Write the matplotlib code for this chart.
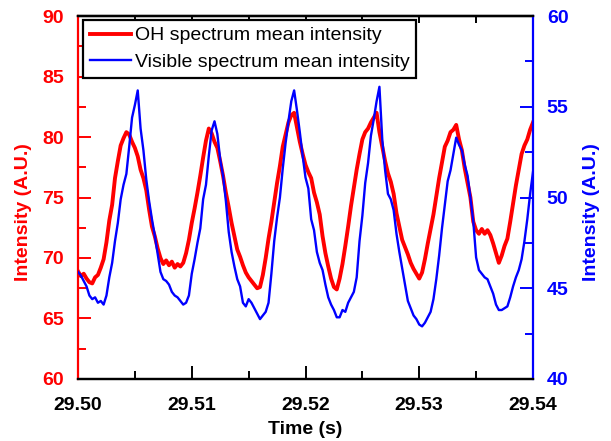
#!/usr/bin/env python3
# OH vs visible spectrum mean intensity, two y-axes

import numpy as np
import matplotlib
matplotlib.use("Agg")
import matplotlib.pyplot as plt
from matplotlib.ticker import MultipleLocator

plt.rcParams["font.family"] = ["Liberation Sans", "DejaVu Sans"]

t_start = 29.50
t_step = 0.00025  # s, sample spacing

oh_intensity = [
    68.9, 68.5, 68.7, 68.3, 68.0, 67.9, 68.4, 68.6, 69.2, 69.9,
    71.3, 73.1, 74.4, 76.6, 78.0, 79.3, 79.9, 80.4, 80.2, 79.6,
    79.1, 78.4, 77.3, 76.6, 75.6, 74.0, 72.6, 71.8, 70.8, 70.0,
    69.5, 69.8, 69.4, 69.7, 69.2, 69.5, 69.3, 69.6, 70.4, 71.5,
    72.9, 74.1, 75.4, 76.8, 78.3, 79.7, 80.7, 80.3, 79.6, 79.1,
    78.0, 76.8, 75.4, 74.2, 72.9, 71.8, 70.7, 70.1, 69.4, 68.8,
    68.4, 68.1, 67.8, 67.5, 67.6, 68.6, 70.0, 71.6, 73.0, 74.6,
    76.2, 77.6, 79.2, 80.2, 81.2, 81.8, 82.0, 80.8, 79.6, 78.6,
    77.7, 77.1, 76.6, 75.4, 74.6, 73.6, 71.8, 70.4, 69.3, 68.3,
    67.6, 67.4, 68.3, 69.5, 71.0, 72.6, 74.3, 75.8, 77.3, 78.6,
    79.8, 80.4, 80.7, 81.2, 81.6, 82.0, 80.4, 79.2, 78.0, 77.0,
    76.3, 75.3, 73.7, 72.6, 71.5, 70.9, 70.3, 69.6, 69.1, 68.7,
    68.3, 68.8, 69.9, 71.2, 72.4, 73.6, 75.1, 76.6, 77.9, 79.2,
    79.7, 80.4, 80.6, 81.0, 79.8, 78.9, 77.4, 76.2, 75.0, 73.0,
    72.3, 72.0, 72.4, 72.0, 72.3, 71.9, 71.2, 70.4, 69.6, 70.2,
    71.0, 71.6, 73.0, 74.5, 76.0, 77.3, 78.6, 79.3, 79.8, 80.6,
    81.2,
]

vis_intensity = [
    45.9, 45.7, 45.4, 45.1, 44.6, 44.4, 44.5, 44.2, 44.3, 44.1,
    44.6, 45.6, 46.4, 47.6, 48.6, 49.9, 50.7, 51.3, 52.8, 54.4,
    55.1, 55.9, 53.8, 52.6, 51.0, 49.8, 48.8, 47.9, 46.9, 45.9,
    45.5, 45.4, 45.2, 44.8, 44.6, 44.5, 44.3, 44.1, 44.2, 44.6,
    45.8, 46.6, 47.5, 48.3, 49.9, 50.7, 52.3, 53.7, 54.2, 53.5,
    52.1, 51.2, 49.8, 48.1, 47.0, 46.2, 45.5, 45.1, 44.2, 44.0,
    44.4, 44.2, 43.9, 43.6, 43.3, 43.5, 43.7, 44.2, 45.8, 47.6,
    48.9, 50.0, 51.6, 53.0, 54.2, 55.3, 55.9, 54.8, 53.6, 52.3,
    51.1, 50.5, 48.8, 48.2, 47.0, 46.4, 46.0, 45.2, 44.5, 44.1,
    43.8, 43.4, 43.4, 43.8, 43.7, 44.2, 44.5, 44.8, 45.6, 47.6,
    49.0, 50.8, 51.9, 53.4, 54.3, 55.3, 56.1, 53.2, 51.5, 50.2,
    49.9, 49.3, 48.0, 47.0, 46.1, 45.2, 44.3, 43.9, 43.5, 43.3,
    43.0, 42.9, 43.1, 43.4, 43.7, 44.4, 45.5, 46.8, 48.3, 49.6,
    50.9, 51.5, 52.4, 53.3, 52.9, 52.6, 51.8, 51.2, 50.0, 48.7,
    46.7, 46.0, 45.8, 45.6, 45.5, 45.1, 44.7, 44.1, 43.8, 43.8,
    43.9, 44.0, 44.5, 45.1, 45.6, 46.0, 46.6, 47.6, 48.8, 50.2,
    51.4,
]

time = t_start + t_step * np.arange(len(oh_intensity))

RED = "#ff0000"
BLUE = "#0000ff"

fig = plt.figure(figsize=(6.11, 4.41), dpi=100)
ax = fig.add_axes([0.1277, 0.1406, 0.7446, 0.8231])
ax2 = ax.twinx()

l1, = ax.plot(time, oh_intensity, color=RED, lw=2.8, label="OH spectrum mean intensity")
l2, = ax2.plot(time, vis_intensity, color=BLUE, lw=1.7, label="Visible spectrum mean intensity")

ax.set_xlim(29.50, 29.54)
ax.set_ylim(60, 90)
ax2.set_ylim(40, 60)

ax.xaxis.set_major_locator(MultipleLocator(0.01))
ax.xaxis.set_minor_locator(MultipleLocator(0.005))
ax.yaxis.set_major_locator(MultipleLocator(5))
ax.yaxis.set_minor_locator(MultipleLocator(2.5))
ax2.yaxis.set_major_locator(MultipleLocator(5))
ax2.yaxis.set_minor_locator(MultipleLocator(2.5))
ax.xaxis.set_major_formatter(lambda v, p: f"{v:.2f}")

# spines
for s in ax.spines.values():
    s.set_linewidth(1.6)
for s in ax2.spines.values():
    s.set_linewidth(1.6)
ax.spines["left"].set_color(RED)
ax2.spines["left"].set_visible(False)
ax.spines["right"].set_visible(False)
ax2.spines["right"].set_color(BLUE)

ax.tick_params(axis="x", which="major", direction="in", length=9.5, width=1.4,
               labelsize=14, pad=13, top=False)
ax.tick_params(axis="x", which="minor", direction="in", length=5.5, width=1.4, top=False)
ax.tick_params(axis="y", which="both", direction="in", width=1.4, color=RED,
               labelcolor=RED, labelsize=14, pad=10)
ax.tick_params(axis="y", which="major", length=9.5)
ax.tick_params(axis="y", which="minor", length=5.5)
ax2.tick_params(axis="y", which="both", direction="in", width=1.4, color=BLUE,
                labelcolor=BLUE, labelsize=14, pad=10)
ax2.tick_params(axis="y", which="major", length=9.5)
ax2.tick_params(axis="y", which="minor", length=5.5)

# short ticks along the top edge
top = ax.secondary_xaxis("top")
top.xaxis.set_major_locator(MultipleLocator(0.005))
top.tick_params(direction="in", length=5, width=1.4, labeltop=False)
top.spines["top"].set_linewidth(1.6)

for lab in ax.get_xticklabels() + ax.get_yticklabels() + ax2.get_yticklabels():
    lab.set_fontweight("bold")

ax.set_xlabel("Time (s)", fontsize=14, fontweight="bold")
ax.xaxis.set_label_coords(0.5, -0.116)
ax.set_ylabel("Intensity (A.U.)", fontsize=14, fontweight="bold", color=RED)
ax.yaxis.set_label_coords(-0.101, 0.46)
ax2.set_ylabel("Intensity (A.U.)", fontsize=14, fontweight="bold", color=BLUE)
ax2.yaxis.set_label_coords(1.110, 0.46)

leg = ax2.legend(handles=[l1, l2], loc="upper left", bbox_to_anchor=(0.011, 0.989),
                 borderaxespad=0, fontsize=14, frameon=True, fancybox=False,
                 handlelength=2.1, handletextpad=0.2, borderpad=0.35,
                 labelspacing=0.45)
leg.get_frame().set_edgecolor("black")
leg.get_frame().set_linewidth(1.6)
leg.get_frame().set_alpha(1)

fig.savefig("out.png", dpi=100)
print("saved out.png")
